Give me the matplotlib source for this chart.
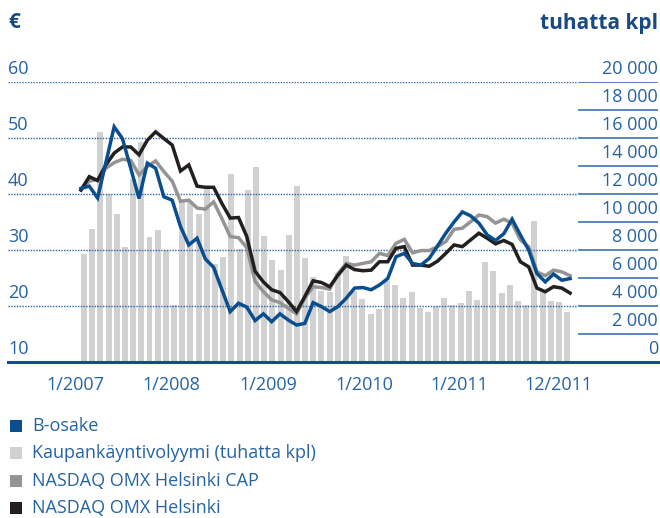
import numpy as np
import matplotlib.pyplot as plt
from matplotlib.patches import Rectangle
from matplotlib import transforms

plt.rcParams['font.family'] = ['Open Sans', 'DejaVu Sans']

# monthly data 1/2007 - 12/2011
volume = [7700, 9500, 16400, 12000, 10600, 8200, 13100, 15700, 8950, 9400, 8000, 4100,
          11500, 11400, 10600, 12400, 7000, 7500, 13400, 8100, 12300, 13900, 9000, 7300,
          6600, 9100, 12600, 7450, 6100, 5100, 5000, 6350, 7600, 5100, 4500, 3400,
          3800, 5800, 5500, 4600, 5000, 3860, 3570, 4000, 4600, 4070, 4200, 5070,
          4430, 7140, 6500, 4900, 5500, 4360, 4100, 10070, 5140, 4360, 4290, 3600]

b_share = [41.0, 41.4, 39.3, 45.6, 52.0, 49.9, 44.6, 39.2, 45.5, 44.6, 39.5, 38.9,
           34.2, 30.9, 32.1, 28.4, 26.9, 22.9, 19.0, 20.5, 19.8, 17.4, 18.6, 17.2,
           18.6, 17.5, 16.6, 16.9, 20.6, 19.9, 19.0, 19.9, 21.4, 23.2, 23.3, 22.9,
           23.75, 24.9, 28.8, 29.4, 27.6, 27.3, 28.5, 30.7, 33.0, 35.0, 36.8, 36.1,
           34.8, 32.7, 31.7, 32.9, 35.5, 32.7, 30.0, 25.8, 24.3, 25.7, 24.6, 24.9]

omx_cap = [40.8, 42.3, 42.6, 44.6, 45.6, 46.2, 46.0, 43.4, 44.9, 45.9, 44.0, 42.3,
           38.7, 38.9, 37.5, 37.3, 38.6, 35.6, 32.4, 32.2, 30.4, 24.4, 22.55, 21.1,
           20.6, 19.6, 18.6, 21.4, 23.45, 23.3, 23.0, 25.8, 27.6, 27.3, 27.6, 27.9,
           29.4, 29.0, 31.2, 31.9, 29.5, 29.9, 29.9, 30.6, 31.5, 33.7, 33.9, 35.05,
           36.25, 35.95, 34.8, 35.5, 34.8, 31.8, 30.6, 26.1, 25.4, 26.4, 26.1, 25.4]

omx = [40.7, 43.1, 42.4, 45.2, 47.3, 48.4, 48.4, 47.0, 49.6, 51.1, 49.9, 48.75,
       44.1, 45.2, 41.4, 41.2, 41.2, 38.3, 35.7, 35.8, 32.4, 26.2, 24.3, 22.9,
       22.4, 20.8, 19.0, 21.7, 24.5, 24.2, 23.45, 25.5, 27.3, 26.5, 26.3, 26.4,
       27.9, 27.9, 30.3, 30.6, 27.3, 27.3, 27.1, 28.0, 29.4, 30.9, 30.6, 31.8,
       33.0, 32.1, 31.1, 31.7, 31.0, 27.9, 27.0, 23.2, 22.55, 23.45, 23.2, 22.3]

xlabels = ['1/2007', '1/2008', '1/2009', '1/2010', '1/2011', '12/2011']
xlabel_pos = [-1, 10.7, 22.5, 34.2, 45.8, 58]
eur_ticks = [10, 20, 30, 40, 50, 60]
vol_ticks = list(range(0, 20001, 2000))

legend_labels = ['B-osake', 'Kaupankäyntivolyymi (tuhatta kpl)',
                 'NASDAQ OMX Helsinki CAP', 'NASDAQ OMX Helsinki']

c_blue = '#0a4e8f'
c_bar = '#d0d1d3'
c_gray = '#949494'
c_black = '#231f20'
c_text = '#2563a3'
c_head = '#174a84'

W, H = 660, 518
fig = plt.figure(figsize=(W / 100, H / 100), dpi=100)
ax = fig.add_axes([8 / W, (H - 362) / H, 650 / W, 280 / H])
ax2 = ax.twinx()

x = np.arange(len(volume))
ax.bar(x, volume, width=0.73, color=c_bar, zorder=1)
ax.set_ylim(0, 20000)
ax.set_xlim(-9.28, 70.1)

# index lines run slightly wider than the bar row
xl = (x - x.mean()) * 1.0124 + x.mean()
ax2.plot(xl, omx_cap, color=c_gray, lw=2.5, solid_joinstyle='miter', zorder=2)
ax2.plot(xl, omx, color=c_black, lw=2.5, solid_joinstyle='miter', zorder=3)
ax2.plot(xl, b_share, color=c_blue, lw=2.5, solid_joinstyle='miter', zorder=4)
ax2.set_ylim(10, 60)

for a in (ax, ax2):
    for s in a.spines.values():
        s.set_visible(False)
    a.set_yticks([])
ax2.set_xticks([])

# dotted grid for the euro scale, short solid marks for the volume scale
for v in eur_ticks[1:]:
    ax2.axhline(v, xmin=0, xmax=569 / 650, color='#2a64a8', lw=1.0,
                linestyle=(0, (1, 1)), zorder=0)
for v in vol_ticks[1:]:
    ax.axhline(v, xmin=571 / 650, xmax=1, color='#4a7db5', lw=1.3, zorder=0)
ax.axhline(0, color='#164c8a', lw=2.2, zorder=5, clip_on=False)

for v in eur_ticks:
    tr = transforms.blended_transform_factory(ax.transAxes, ax2.transData)
    tr = transforms.offset_copy(tr, fig=fig, x=0, y=4, units='dots')
    ax2.text(0, v, str(v), transform=tr, ha='left', va='bottom',
             fontsize=13, color=c_text)
for v in vol_ticks:
    tr = transforms.blended_transform_factory(ax.transAxes, ax.transData)
    tr = transforms.offset_copy(tr, fig=fig, x=0, y=4, units='dots')
    ax.text(1, v, f'{v:,}'.replace(',', ' '), transform=tr, ha='right',
            va='bottom', fontsize=13, color=c_text)

ax.set_xticks(xlabel_pos)
ax.set_xticklabels(xlabels, fontsize=13, color=c_text)
ax.tick_params(axis='x', length=0, pad=10)

fig.text(8 / W, 1 - 23 / H, '€', fontsize=15, fontweight='bold',
         color=c_head, ha='left', va='center')
fig.text(658 / W, 1 - 23 / H, 'tuhatta kpl', fontsize=15, fontweight='bold',
         color=c_head, ha='right', va='center')

# legend
for i, (lab, col) in enumerate(zip(legend_labels, [c_blue, c_bar, c_gray, c_black])):
    yc = 426 + i * 27.3
    fig.add_artist(Rectangle((10 / W, 1 - (yc + 6) / H), 12 / W, 12 / H,
                             transform=fig.transFigure, color=col, lw=0))
    fig.text(32 / W, 1 - yc / H, lab, fontsize=13, color=c_text,
             ha='left', va='center')

fig.savefig('out.png', dpi=100)
